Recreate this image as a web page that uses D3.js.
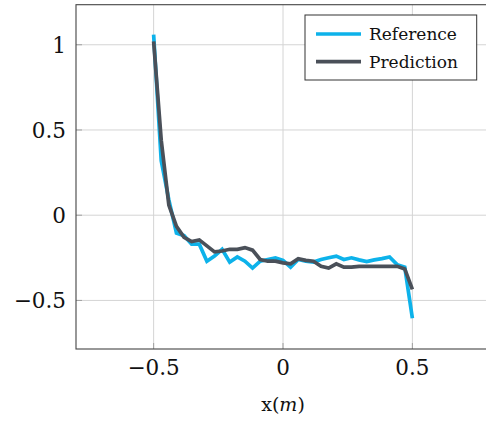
<!DOCTYPE html>
<html>
<head>
<meta charset="utf-8">
<script src="https://cdn.jsdelivr.net/npm/d3@7"></script>
<style>
  html, body { margin: 0; padding: 0; background: #fff; }
  svg { display: block; }
  text { font-family: "DejaVu Serif", "Liberation Serif", serif; fill: #111; }
</style>
</head>
<body>
<svg id="chart" width="486" height="421"></svg>
<script>
// ---- data ----
const N = 35;
const xValues = d3.range(N).map(i => -0.5 + i / (N - 1));
const referenceValues = [
  1.06, 0.32, 0.09, -0.105, -0.12, -0.17, -0.17, -0.27, -0.24, -0.20,
  -0.275, -0.245, -0.27, -0.31, -0.27, -0.26, -0.25, -0.265, -0.305, -0.26,
  -0.27, -0.275, -0.26, -0.25, -0.24, -0.26, -0.25, -0.262, -0.272, -0.262,
  -0.255, -0.245, -0.29, -0.305, -0.605
];
const predictionValues = [
  1.02, 0.44, 0.06, -0.065, -0.13, -0.155, -0.145, -0.18, -0.215, -0.21,
  -0.20, -0.20, -0.19, -0.205, -0.26, -0.27, -0.27, -0.28, -0.285, -0.255,
  -0.265, -0.27, -0.30, -0.31, -0.285, -0.305, -0.305, -0.30, -0.30, -0.30,
  -0.30, -0.30, -0.30, -0.315, -0.435
];
const seriesNames = ["Reference", "Prediction"];
const xTicks = [-0.5, 0, 0.5];
const yTicks = [-0.5, 0, 0.5, 1];

// ---- layout ----
const svg = d3.select("#chart");
const L = 76, R = 490, T = 4.7, B = 349;
const x = d3.scaleLinear().domain([-0.8, 0.8]).range([L, R]);
const y = d3.scaleLinear().domain([-0.785, 1.235]).range([B, T]);
const colors = ["#0db2ea", "#4a5059"];
const fmt = v => (v < 0 ? "\u2212" : "") + String(Math.abs(v));

// grid
const g = svg.append("g");
g.selectAll(".vg").data(xTicks).join("line")
  .attr("x1", d => x(d)).attr("x2", d => x(d)).attr("y1", T).attr("y2", B)
  .attr("stroke", "#d4d4d4").attr("stroke-width", 1);
g.selectAll(".hg").data(yTicks).join("line")
  .attr("x1", L).attr("x2", R).attr("y1", d => y(d)).attr("y2", d => y(d))
  .attr("stroke", "#d4d4d4").attr("stroke-width", 1);

// tick marks (inside)
g.selectAll(".xt").data(xTicks).join("line")
  .attr("x1", d => x(d)).attr("x2", d => x(d)).attr("y1", B).attr("y2", B - 6)
  .attr("stroke", "#a0a0a0").attr("stroke-width", 1);
g.selectAll(".yt").data(yTicks).join("line")
  .attr("x1", L).attr("x2", L + 6).attr("y1", d => y(d)).attr("y2", d => y(d))
  .attr("stroke", "#a0a0a0").attr("stroke-width", 1);

// lines
const line = d3.line().x((d, i) => x(xValues[i])).y(d => y(d));
[referenceValues, predictionValues].forEach((vals, k) => {
  svg.append("path").datum(vals)
    .attr("d", line)
    .attr("fill", "none")
    .attr("stroke", colors[k])
    .attr("stroke-width", 3.7)
    .attr("stroke-linejoin", "miter")
    .attr("stroke-miterlimit", 10);
});

// frame
svg.append("rect").attr("x", L).attr("y", T).attr("width", R - L).attr("height", B - T)
  .attr("fill", "none").attr("stroke", "#444").attr("stroke-width", 1.1);

// tick labels
svg.selectAll(".xl").data(xTicks).join("text")
  .attr("x", d => x(d)).attr("y", 375)
  .attr("text-anchor", "middle").attr("font-size", 21.5)
  .text(fmt);
svg.selectAll(".yl").data(yTicks).join("text")
  .attr("x", 66).attr("y", d => y(d) + 7.8)
  .attr("text-anchor", "end").attr("font-size", 21.5)
  .text(fmt);

// axis label
const xl = svg.append("text").attr("x", x(0)).attr("y", 411).attr("text-anchor", "middle")
  .attr("font-size", 19);
xl.append("tspan").text("x(");
xl.append("tspan").attr("font-style", "italic").text("m");
xl.append("tspan").text(")");

// legend
const lg = svg.append("g");
lg.append("rect").attr("x", 305).attr("y", 15).attr("width", 171.7).attr("height", 65)
  .attr("fill", "#fff").attr("stroke", "#333").attr("stroke-width", 1);
seriesNames.forEach((name, k) => {
  const yy = 34 + k * 27.7;
  lg.append("line").attr("x1", 316).attr("x2", 361).attr("y1", yy).attr("y2", yy)
    .attr("stroke", colors[k]).attr("stroke-width", 3.7);
  lg.append("text").attr("x", 369).attr("y", yy + 6).attr("font-size", 17).text(name);
});
</script>
</body>
</html>
